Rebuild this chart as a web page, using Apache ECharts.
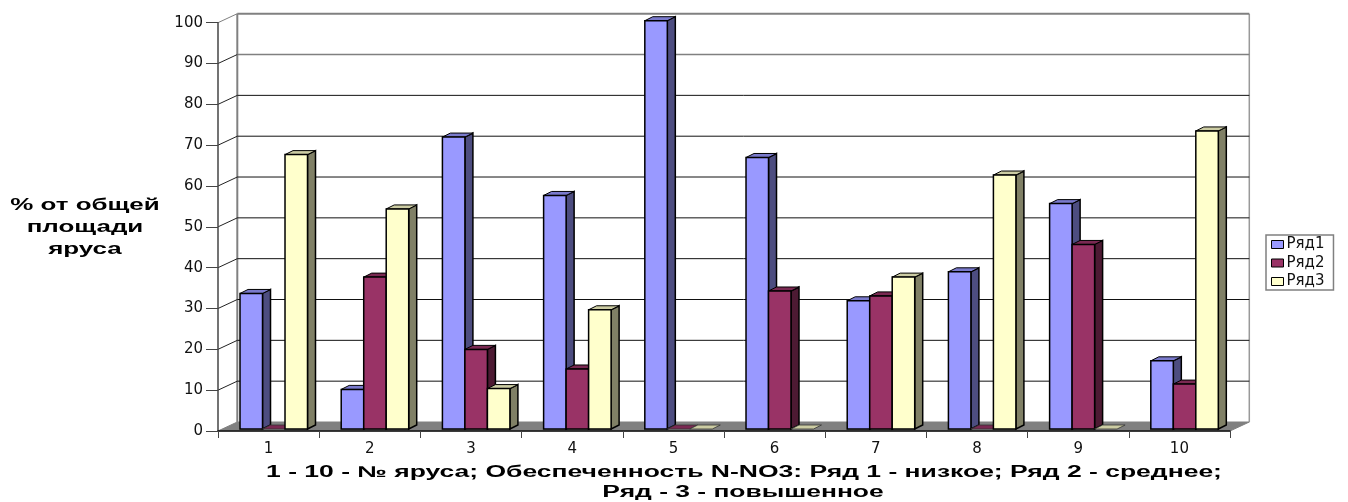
<!DOCTYPE html>
<html><head><meta charset="utf-8">
<style>html,body{margin:0;padding:0;background:#fff}#c{width:1348px;height:502px}</style>
<script src="https://cdn.jsdelivr.net/npm/echarts@6/dist/echarts.min.js"></script>
</head><body><div id="c"></div>
<script>
const categories = ['1','2','3','4','5','6','7','8','9','10'];
const seriesNames = ['Ряд1','Ряд2','Ряд3'];
const row1 = [33.2, 9.7, 71.5, 57.2, 100, 66.5, 31.4, 38.5, 55.2, 16.7];
const row2 = [0, 37.2, 19.5, 14.7, 0, 33.8, 32.6, 0, 45.2, 11];
const row3 = [67.2, 53.9, 9.9, 29.2, 0, 0, 37.2, 62.2, 0, 73];
const yTicks = [0,10,20,30,40,50,60,70,80,90,100];
const yTitle = '% от общей\nплощади\nяруса';
const xTitle1 = '1 - 10 - № яруса; Обеспеченность N-NO3: Ряд 1 - низкое; Ряд 2 - среднее;';
const xTitle2 = 'Ряд - 3 - повышенное';

const WALL = [19.3, -9], BAR = [8, -4], BASE = -2;
const palette = [
  {front:'#9999FF', top:'#7A7ACC', side:'#4D4D80'},
  {front:'#993366', top:'#7A2952', side:'#4D1A33'},
  {front:'#FFFFCC', top:'#CCCCA3', side:'#808066'}
];

function wallItem(params, api){
  const cs = params.coordSys, v = api.value(0);
  const y = api.coord([0, v])[1], x0 = cs.x, x1 = cs.x + cs.width;
  const bx0 = x0 + WALL[0], bx1 = x1 + WALL[0], by = y + WALL[1];
  const grey = v === 100 || v === 90;
  const kids = [];
  if (v === 0) {
    kids.push({type:'polygon', shape:{points:[[x0,y],[x1,y],[bx1,by],[bx0,by]]}, style:{fill:'#808080', stroke:'#808080'}});
    const topY = api.coord([0,100])[1] + WALL[1];
    kids.push({type:'line', shape:{x1:bx0,y1:topY,x2:bx0,y2:by}, style:{stroke:'#808080', lineWidth:2}});
    kids.push({type:'line', shape:{x1:bx1,y1:topY,x2:bx1,y2:by}, style:{stroke:'#999999', lineWidth:1.5}});
  } else {
    kids.push({type:'line', shape:{x1:bx0,y1:by,x2:bx1,y2:by}, style:{stroke: grey ? '#808080' : '#111', lineWidth: v===100 ? 2 : (grey ? 1.5 : 1)}});
    kids.push({type:'line', shape:{x1:x0,y1:y,x2:bx0,y2:by}, style:{stroke: v===100 ? '#808080' : '#222', lineWidth:1}});
  }
  return {type:'group', children:kids};
}

function barItem(idx){
  return function(params, api){
    const cat = api.value(0), val = api.value(1);
    const band = api.size([1,0])[0];
    const w = band * 0.2223;
    const cx = api.coord([cat, 0])[0] + band * 0.051;
    const x = cx - 1.5 * w + idx * w;
    const y0 = api.coord([cat, 0])[1] + BASE;
    const yt = api.coord([cat, val])[1] + BASE;
    const c = palette[idx], b = {stroke:'#000', lineWidth:1.5};
    const dx = BAR[0], dy = BAR[1];
    if (val === 0) {
      return {type:'polygon', shape:{points:[[x,yt],[x+dx,yt+dy],[x+w+dx,yt+dy],[x+w,yt]]}, style:{fill:c.top, stroke:'#333', lineWidth:0.8}};
    }
    return {type:'group', children:[
      {type:'polygon', shape:{points:[[x+w,yt],[x+w+dx,yt+dy],[x+w+dx,y0+dy],[x+w,y0]]}, style:{fill:c.side, ...b}},
      {type:'polygon', shape:{points:[[x,yt],[x+dx,yt+dy],[x+w+dx,yt+dy],[x+w,yt]]}, style:{fill:c.top, stroke:'#000', lineWidth:1}},
      {type:'rect', shape:{x:x, y:yt, width:w, height:y0-yt}, style:{fill:c.front, ...b}}
    ]};
  };
}

const chart = echarts.init(document.getElementById('c'), null, {renderer:'canvas'});
const sans = '"DejaVu Sans"', bold = '"Liberation Sans"';
chart.setOption({
  animation:false,
  backgroundColor:'#fff',
  grid:{left:218, right:118, top:22.7, bottom:71, containLabel:false},
  xAxis:{type:'category', data:categories, boundaryGap:true, z:5,
    axisLine:{lineStyle:{color:'#111', width:1.5}},
    axisTick:{show:true, alignWithLabel:false, length:7, lineStyle:{color:'#444', width:1}},
    axisLabel:{color:'#111', fontFamily:sans, fontSize:15, margin:11}},
  yAxis:{type:'value', min:0, max:100, interval:10, z:5,
    axisLine:{show:true, lineStyle:{color:'#444', width:1.5}},
    axisTick:{show:true, length:12, lineStyle:{color:'#444', width:1}},
    splitLine:{show:false},
    axisLabel:{color:'#111', fontFamily:sans, fontSize:15, margin:15}},
  legend:{data:seriesNames, orient:'vertical', left:1266, top:235, icon:'rect',
    itemWidth:12, itemHeight:8, itemGap:3.5, padding:[2,9,1,5],
    borderColor:'#808080', borderWidth:1.5, selectedMode:false,
    itemStyle:{borderColor:'#000', borderWidth:1},
    textStyle:{color:'#111', fontFamily:sans, fontSize:15, lineHeight:14, padding:[0,0,0,-2]}},
  graphic:[
    {type:'text', x:85, y:228, scaleX:1.62, z:10, style:{text:yTitle, fill:'#000', textAlign:'center', textVerticalAlign:'middle', font:'bold 16px '+bold, lineHeight:22}},
    {type:'text', x:744, y:473, scaleX:1.655, z:10, style:{text:xTitle1, fill:'#000', textAlign:'center', textVerticalAlign:'middle', font:'bold 16px '+bold}},
    {type:'text', x:743, y:493, scaleX:1.65, z:10, style:{text:xTitle2, fill:'#000', textAlign:'center', textVerticalAlign:'middle', font:'bold 16px '+bold}}
  ],
  series:[
    {type:'custom', name:'стены', renderItem:wallItem, data:yTicks.map(v=>[v]), encode:{y:0}, silent:true, z:1},
    ...[row1,row2,row3].map((arr,i)=>({
      type:'custom', name:seriesNames[i], renderItem:barItem(i), z:2+i,
      itemStyle:{color:palette[i].front},
      data:arr.map((v,j)=>[j,v]), encode:{x:0,y:1}
    }))
  ]
});
</script></body></html>
